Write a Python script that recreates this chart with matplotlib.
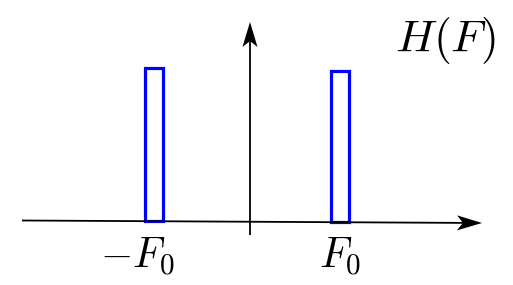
import numpy as np
import matplotlib.pyplot as plt
from matplotlib.patches import Rectangle, Polygon

plt.rcParams['mathtext.fontset'] = 'cm'

# pulse data (pixel space of the sketch, y grows downward)
centers = [153.6, 340.0]
tops = [68.0, 70.8]
widths = [18.0, 18.0]
labels = [r'$-F_0$', r'$F_0$']
label_x = [137, 340]
title = r'$H(F)$'

# axes of the sketch
x_axis = ([22, 482], [220.5, 223.0])
y_axis = ([250, 250], [235, 22])


def axis_y(x):
    return np.interp(x, x_axis[0], x_axis[1])


def arrow_head(ax, tip, direction, length=25, half=7.5, notch=6):
    d = np.array(direction, float)
    d /= np.hypot(*d)
    n = np.array([-d[1], d[0]])
    tip = np.array(tip, float)
    back = tip - d * length
    pts = [tip, back + n * half, tip - d * (length - notch), back - n * half]
    ax.add_patch(Polygon(pts, closed=True, color='black', lw=0))


fig = plt.figure(figsize=(5.13, 2.85), dpi=100)
ax = fig.add_axes([0, 0, 1, 1])
ax.set_xlim(0, 513)
ax.set_ylim(285, 0)
ax.axis('off')

# axes lines
ax.plot(x_axis[0][:1] + [x_axis[0][1] - 15], [x_axis[1][0], axis_y(x_axis[0][1] - 15)],
        color='black', lw=1.3, solid_capstyle='butt')
ax.plot(y_axis[0], [y_axis[1][0], y_axis[1][1] + 15], color='black', lw=1.3,
        solid_capstyle='butt')
dx = x_axis[0][1] - x_axis[0][0]
dy = x_axis[1][1] - x_axis[1][0]
arrow_head(ax, (x_axis[0][1], x_axis[1][1]), (dx, dy))
arrow_head(ax, (y_axis[0][1], y_axis[1][1]), (0, -1))

# pulses
for c, t, w in zip(centers, tops, widths):
    bottom = axis_y(c)
    ax.add_patch(Rectangle((c - w / 2, t), w, bottom - t, fill=False,
                           edgecolor='#0000ff', lw=2.3))

for x, lab in zip(label_x, labels):
    ax.text(x, 268, lab, fontsize=30, ha='center', va='baseline')

ax.text(445, 52, title, fontsize=33, ha='center', va='baseline')

fig.savefig('out.png', dpi=100)
